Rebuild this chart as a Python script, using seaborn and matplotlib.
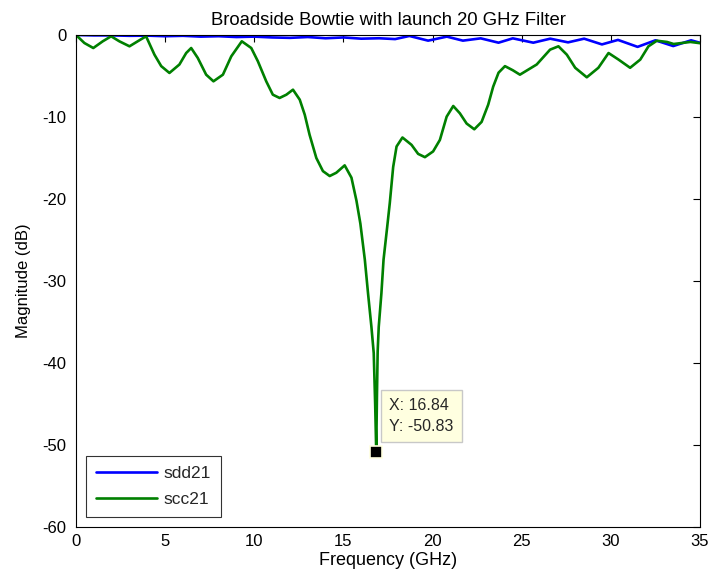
import matplotlib
matplotlib.use("Agg")
import matplotlib.pyplot as plt
import seaborn as sns
import pandas as pd

# Differential-mode insertion loss (sdd21)
sdd21_freq = [0.0, 1.0, 2.0, 3.0, 4.0, 5.0, 6.0, 7.0, 8.0, 9.0, 10.0, 11.0, 12.0,
              13.0, 14.0, 15.0, 16.0, 17.0, 17.9, 18.7, 19.75, 20.8, 21.7, 22.7,
              23.7, 24.5, 25.65, 26.6, 27.6, 28.5, 29.5, 30.4, 31.5, 32.5, 33.5,
              34.5, 35.0]
sdd21_mag = [0.0, -0.05, -0.05, -0.1, -0.08, -0.15, -0.1, -0.2, -0.15, -0.25, -0.2,
             -0.3, -0.35, -0.25, -0.4, -0.3, -0.45, -0.4, -0.5, -0.12, -0.69, -0.2,
             -0.69, -0.41, -0.94, -0.41, -0.94, -0.45, -0.9, -0.45, -1.15, -0.6,
             -1.45, -0.65, -1.35, -0.65, -0.95]

# Common-mode insertion loss (scc21)
scc21_freq = [0.0, 0.47, 0.97, 1.5, 1.97, 2.43, 3.0, 3.46, 3.93, 4.4, 4.78, 5.24,
              5.8, 6.18, 6.46, 6.83, 7.3, 7.71, 8.24, 8.71, 9.3, 9.83, 10.2, 10.67,
              11.04, 11.42, 11.8, 12.17, 12.55, 12.83, 13.1, 13.48, 13.85, 14.23,
              14.6, 15.07, 15.45, 15.73, 15.95, 16.2, 16.38, 16.57, 16.7, 16.78,
              16.84, 16.88, 16.92, 16.98, 17.13, 17.25, 17.45, 17.6, 17.79, 17.98,
              18.31, 18.82, 19.19, 19.57, 20.03, 20.41, 20.79, 21.16, 21.53, 21.91,
              22.34, 22.75, 23.12, 23.4, 23.7, 24.06, 24.5, 24.9, 25.84, 26.59,
              27.06, 27.53, 28.0, 28.65, 29.3, 29.87, 30.43, 31.08, 31.65, 32.11,
              32.58, 33.15, 33.52, 34.46, 35.0]
scc21_mag = [0.0, -0.98, -1.59, -0.77, -0.16, -0.77, -1.38, -0.77, -0.16, -2.4, -3.8,
             -4.63, -3.6, -2.2, -1.59, -2.8, -4.84, -5.65, -4.84, -2.6, -0.77, -1.59,
             -3.2, -5.65, -7.28, -7.68, -7.28, -6.67, -7.89, -9.72, -12.16, -15.0,
             -16.6, -17.2, -16.8, -15.9, -17.4, -20.2, -23.0, -27.4, -31.5, -35.6,
             -38.8, -45.0, -50.83, -44.0, -38.6, -35.6, -31.5, -27.4, -23.5, -20.5,
             -16.1, -13.6, -12.5, -13.4, -14.5, -14.9, -14.2, -12.8, -9.96, -8.66,
             -9.55, -10.8, -11.5, -10.6, -8.5, -6.3, -4.6, -3.8, -4.3, -4.84, -3.6,
             -1.79, -1.38, -2.4, -4.0, -5.16, -4.0, -2.2, -3.0, -4.0, -3.0, -1.38,
             -0.7, -0.85, -1.1, -0.85, -1.0]

series_names = ["sdd21", "scc21"]
series_colors = ["#0000ff", "#008000"]

tip_x = 16.84
tip_y = -50.83

x_ticks = [0, 5, 10, 15, 20, 25, 30, 35]
y_ticks = [-60, -50, -40, -30, -20, -10, 0]

df = pd.concat([
    pd.DataFrame({"Frequency": sdd21_freq, "Magnitude": sdd21_mag, "trace": series_names[0]}),
    pd.DataFrame({"Frequency": scc21_freq, "Magnitude": scc21_mag, "trace": series_names[1]}),
], ignore_index=True)

sns.set_theme(style="white")
plt.rcParams["font.family"] = ["Liberation Sans", "DejaVu Sans"]
plt.rcParams["axes.unicode_minus"] = False

fig = plt.figure(figsize=(7.09, 5.84), dpi=100)
ax = fig.add_axes([0.1072, 0.0976, 0.8801, 0.8425])

sns.lineplot(data=df, x="Frequency", y="Magnitude", hue="trace",
             hue_order=series_names, palette=series_colors, estimator=None,
             sort=False, linewidth=1.9, ax=ax, legend=False)

ax.set_xlim(0, 35)
ax.set_ylim(-60, 0)
ax.set_xticks(x_ticks)
ax.set_yticks(y_ticks)
ax.tick_params(direction="in", length=5, width=0.8, colors="black",
               labelsize=12, top=True, right=True, pad=5)
ax.tick_params(axis="y", pad=7)
for sp in ax.spines.values():
    sp.set_visible(True)
    sp.set_color("black")
    sp.set_linewidth(0.8)

ax.set_xlabel("Frequency (GHz)", fontsize=13, labelpad=2, color="black")
ax.set_ylabel("Magnitude (dB)", fontsize=12, labelpad=8, color="black")
ax.set_title("Broadside Bowtie with launch 20 GHz Filter", fontsize=13.3, pad=7,
             color="black")

# Legend
handles = ax.get_lines()[:2]
leg = ax.legend(handles, series_names, loc="lower left", fontsize=12.5,
                frameon=True, fancybox=False, handlelength=3.5,
                handletextpad=0.4, labelspacing=0.62, borderpad=0.55,
                borderaxespad=0.6)
leg.get_frame().set_edgecolor("black")
leg.get_frame().set_linewidth(0.8)

# Data tip at the resonance minimum
ax.plot([tip_x], [tip_y], marker="s", markersize=8, color="black",
        markeredgecolor="#ffffe0", markeredgewidth=1.2, zorder=5)
ax.annotate(f"X: {tip_x:.2f}\nY: {tip_y:.2f}", xy=(tip_x, tip_y),
            xytext=(13, 18), textcoords="offset pixels", ha="left", va="bottom",
            fontsize=11.5, linespacing=1.5,
            bbox=dict(boxstyle="square,pad=0.5", fc="#ffffe0", ec="#c8c8c8", lw=1.0),
            zorder=6)

fig.savefig("out.png", dpi=100, facecolor="white")
